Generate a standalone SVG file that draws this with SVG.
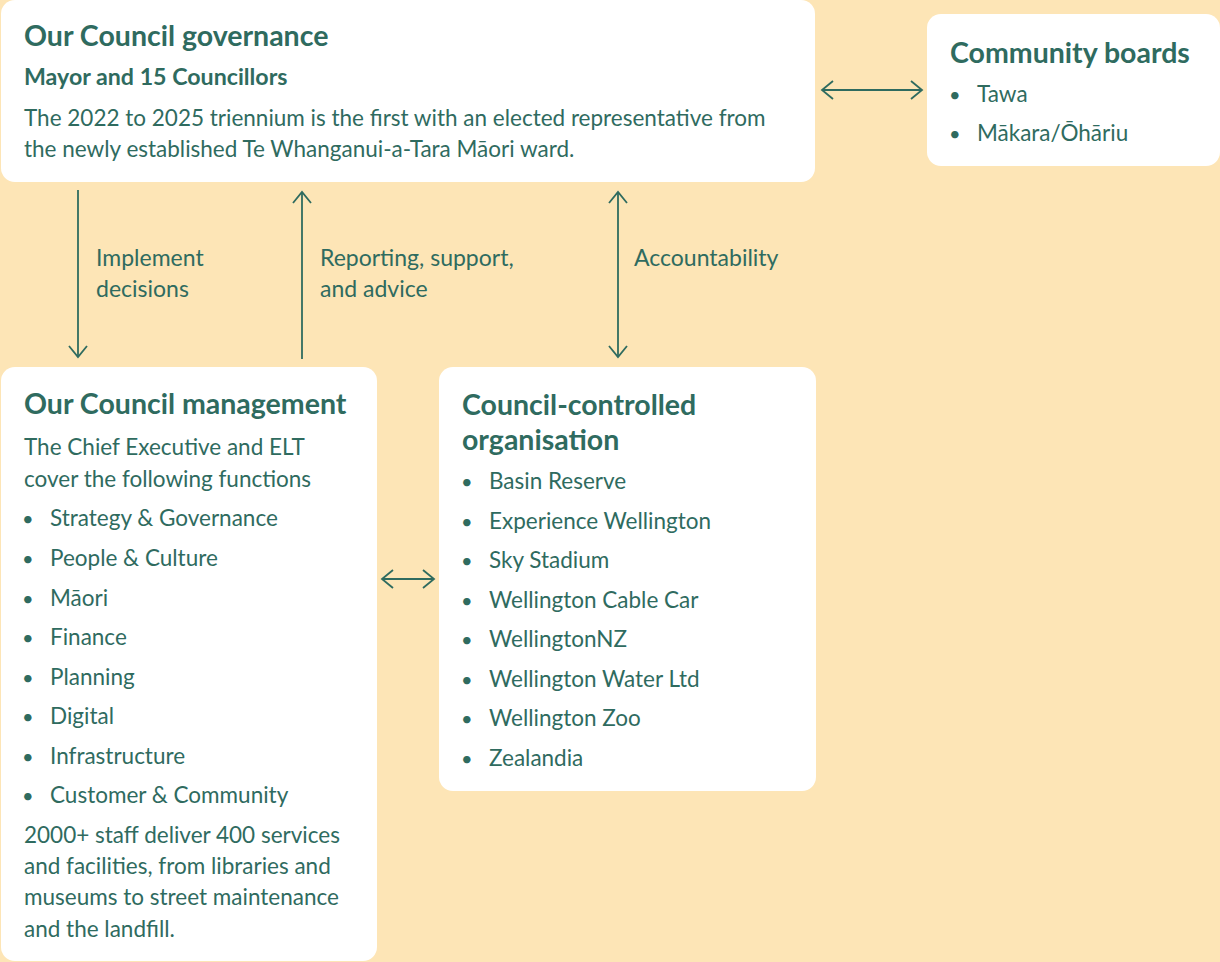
<svg xmlns="http://www.w3.org/2000/svg" width="1220" height="962" viewBox="0 0 1220 962">
<style>
.box{fill:#ffffff}
text{font-family:Lato,"Noto Sans",sans-serif;fill:#2f6b5f}
.h{font-size:28.5px;font-weight:700}
.sh{font-size:23.2px;font-weight:700}
.b{font-size:22.5px}
.bl{font-size:20px}
.lbl{font-size:23px}
.ar{stroke:#2f6b5f;stroke-width:1.8;fill:none}
</style>
<defs>
<marker id="ah" markerUnits="userSpaceOnUse" markerWidth="26" markerHeight="26" viewBox="-13 -13 26 26" refX="0" refY="0" orient="auto-start-reverse">
<path d="M-11,-9 L0,0 L-11,9" fill="none" stroke="#2f6b5f" stroke-width="1.8"/>
</marker>
</defs>
<rect x="0" y="0" width="1220" height="962" fill="#fde5b6"/>

<g id="governance">
<rect class="box" x="1" y="0" width="814" height="182" rx="14"/>
<text class="h" x="24" y="46">Our Council governance</text>
<text class="sh" x="24" y="85">Mayor and 15 Councillors</text>
<text class="b" x="24" y="126">The 2022 to 2025 triennium is the first with an elected representative from</text>
<text class="b" x="24" y="157">the newly established Te Whanganui-a-Tara Māori ward.</text>
</g>

<g id="community-boards">
<rect class="box" x="927" y="14" width="293" height="152" rx="14"/>
<text class="h" x="950" y="63">Community boards</text>
<text class="bl" x="949" y="102">•</text><text class="b" x="977" y="102">Tawa</text>
<text class="bl" x="949" y="141">•</text><text class="b" x="977" y="141">Mākara/Ōhāriu</text>
</g>

<g id="management">
<rect class="box" x="1" y="367" width="376" height="594" rx="14"/>
<text class="h" x="24" y="414">Our Council management</text>
<text class="b" x="24" y="455">The Chief Executive and ELT</text>
<text class="b" x="24" y="487">cover the following functions</text>
<text class="bl" x="22" y="526">•</text><text class="b" x="50" y="526">Strategy &amp; Governance</text>
<text class="bl" x="22" y="566">•</text><text class="b" x="50" y="566">People &amp; Culture</text>
<text class="bl" x="22" y="606">•</text><text class="b" x="50" y="606">Māori</text>
<text class="bl" x="22" y="645">•</text><text class="b" x="50" y="645">Finance</text>
<text class="bl" x="22" y="685">•</text><text class="b" x="50" y="685">Planning</text>
<text class="bl" x="22" y="724">•</text><text class="b" x="50" y="724">Digital</text>
<text class="bl" x="22" y="764">•</text><text class="b" x="50" y="764">Infrastructure</text>
<text class="bl" x="22" y="803">•</text><text class="b" x="50" y="803">Customer &amp; Community</text>
<text class="b" x="24" y="843">2000+ staff deliver 400 services</text>
<text class="b" x="24" y="874">and facilities, from libraries and</text>
<text class="b" x="24" y="905">museums to street maintenance</text>
<text class="b" x="24" y="937">and the landfill.</text>
</g>

<g id="cco">
<rect class="box" x="439" y="367" width="377" height="424" rx="14"/>
<text class="h" x="462" y="415">Council-controlled</text>
<text class="h" x="462" y="450">organisation</text>
<text class="bl" x="461" y="489">•</text><text class="b" x="489" y="489">Basin Reserve</text>
<text class="bl" x="461" y="529">•</text><text class="b" x="489" y="529">Experience Wellington</text>
<text class="bl" x="461" y="568">•</text><text class="b" x="489" y="568">Sky Stadium</text>
<text class="bl" x="461" y="608">•</text><text class="b" x="489" y="608">Wellington Cable Car</text>
<text class="bl" x="461" y="647">•</text><text class="b" x="489" y="647">WellingtonNZ</text>
<text class="bl" x="461" y="687">•</text><text class="b" x="489" y="687">Wellington Water Ltd</text>
<text class="bl" x="461" y="726">•</text><text class="b" x="489" y="726">Wellington Zoo</text>
<text class="bl" x="461" y="766">•</text><text class="b" x="489" y="766">Zealandia</text>
</g>

<g id="connectors">
<path class="ar" d="M78,190 L78,357" marker-end="url(#ah)"/>
<path class="ar" d="M302,359 L302,192" marker-end="url(#ah)"/>
<path class="ar" d="M618,192 L618,357" marker-start="url(#ah)" marker-end="url(#ah)"/>
<path class="ar" d="M822,90 L922,90" marker-start="url(#ah)" marker-end="url(#ah)"/>
<path class="ar" d="M382,579 L434,579" marker-start="url(#ah)" marker-end="url(#ah)"/>
<text class="lbl" x="96" y="266">Implement</text>
<text class="lbl" x="96" y="297">decisions</text>
<text class="lbl" x="320" y="266">Reporting, support,</text>
<text class="lbl" x="320" y="297">and advice</text>
<text class="lbl" x="634" y="266">Accountability</text>
</g>
</svg>
